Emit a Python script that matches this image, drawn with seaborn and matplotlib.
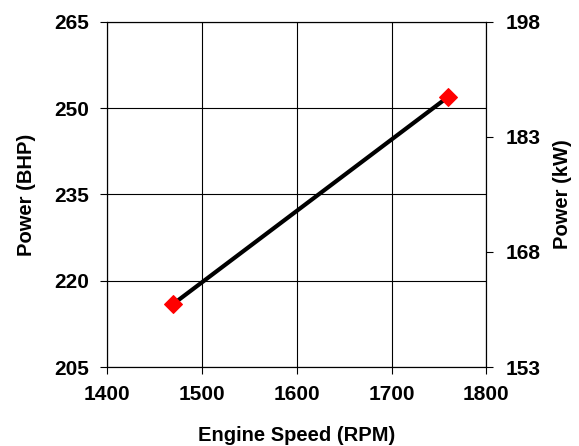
import matplotlib
matplotlib.use("Agg")
import matplotlib.pyplot as plt
import seaborn as sns
import pandas as pd

rpm = [1470, 1760]
bhp = [216, 252]
x_ticks = [1400, 1500, 1600, 1700, 1800]
bhp_ticks = [205, 220, 235, 250, 265]
kw_ticks = [153, 168, 183, 198]

sns.set_style("white")
plt.rcParams['font.family'] = ['Liberation Sans', 'DejaVu Sans']
plt.rcParams['font.weight'] = 'bold'
plt.rcParams['text.color'] = 'black'
plt.rcParams['axes.labelcolor'] = 'black'
plt.rcParams['xtick.color'] = 'black'
plt.rcParams['ytick.color'] = 'black'

df = pd.DataFrame({"rpm": rpm, "bhp": bhp})

fig = plt.figure(figsize=(5.79, 4.46), dpi=100)
ax = fig.add_axes([0.185, 0.177, 0.655, 0.774])
sns.lineplot(data=df, x="rpm", y="bhp", ax=ax, color="black", linewidth=3,
             marker="D", markersize=9, markerfacecolor="red", markeredgecolor="red")
ax.set_xlim(1400, 1800)
ax.set_ylim(205, 265)
ax.set_xticks(x_ticks)
ax.set_yticks(bhp_ticks)
ax.grid(True, color="black", linewidth=0.8)
ax.set_axisbelow(True)
for s in ax.spines.values():
    s.set_color("black")
    s.set_linewidth(0.8)
ax.tick_params(axis="both", direction="out", length=5, width=0.8, color="black",
               labelcolor="black", labelsize=15, pad=8, left=True, bottom=True)
ax.set_xlabel("Engine Speed (RPM)", fontsize=14.5, fontweight="bold", labelpad=16)
ax.set_ylabel("Power (BHP)", fontsize=14.5, fontweight="bold", labelpad=13)
for lab in ax.get_xticklabels() + ax.get_yticklabels():
    lab.set_fontweight("bold")

ax2 = ax.twinx()
ax2.set_ylim(153, 198)
ax2.set_yticks(kw_ticks)
ax2.tick_params(axis="y", direction="out", length=5, width=0.8, color="black",
                labelcolor="black", labelsize=15, pad=9, right=True)
for lab in ax2.get_yticklabels():
    lab.set_fontweight("bold")
ax2.set_ylabel("Power (kW)", fontsize=14.5, fontweight="bold", labelpad=9)
for s in ax2.spines.values():
    s.set_color("black")
    s.set_linewidth(0.8)

fig.savefig("out.png", dpi=100)
